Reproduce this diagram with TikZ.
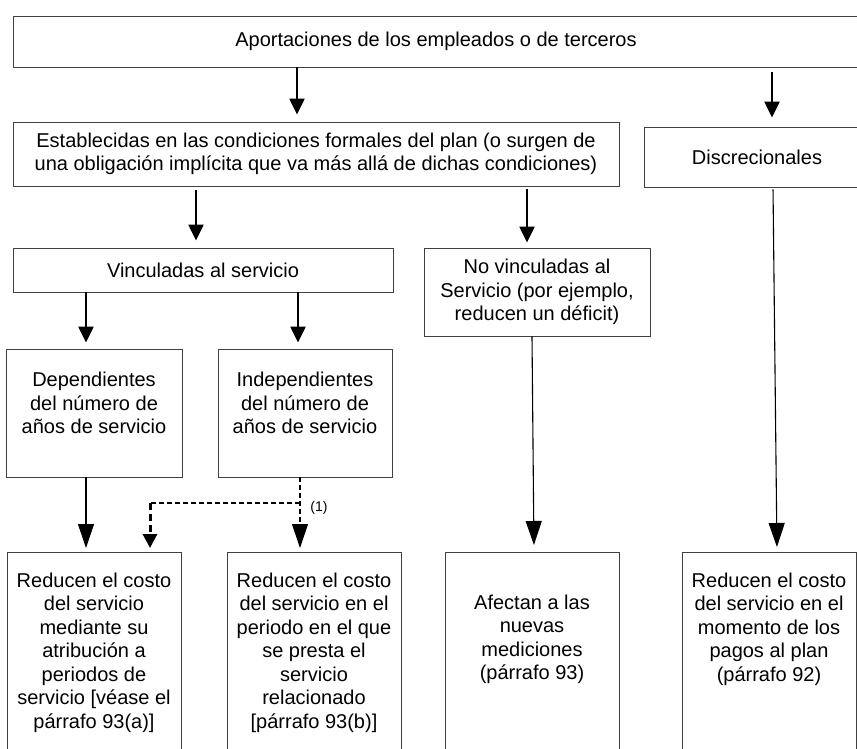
\documentclass[tikz,border=0pt]{standalone}
\usepackage{fontspec}
\setmainfont{Liberation Sans}
\usetikzlibrary{arrows.meta}
\usetikzlibrary{calc}

\begin{document}
\begin{tikzpicture}[x=1pt, y=-1pt,
    main/.style = {draw=black!75, line width=0.9pt, align=center, inner sep=0pt, font=\fontsize{20}{23.5}\selectfont},
    txt/.style = {align=center, inner sep=0pt, font=\fontsize{20}{23.5}\selectfont},
    bold/.style = {line width=2.4pt, -{Triangle[length=16pt,width=15pt]}},
    fine/.style = {line width=1.1pt, -{Triangle[length=24pt,width=16pt]}}]
    \useasboundingbox (0,0) rectangle (857,749);

    \node [main, minimum width=846pt, minimum height=51pt] (top) at (436,41.5) {Aportaciones de los empleados o de terceros};
    \node [main, minimum width=606pt, minimum height=64pt] (estab) at (316,154) {Establecidas en las condiciones formales del plan (o surgen de\\una obligación implícita que va más allá de dichas condiciones)};
    \node [main, minimum width=226pt, minimum height=60pt] (discr) at (757,157) {Discrecionales};
    \node [main, minimum width=380pt, minimum height=44pt] (vinc) at (203,270) {Vinculadas al servicio};
    \node [main, minimum width=226pt, minimum height=88pt] (novinc) at (537,292) {No vinculadas al\\Servicio (por ejemplo,\\reducen un déficit)};

    \node [main, minimum width=176pt, minimum height=128pt] (dep) at (94,413) {};
    \node [main, minimum width=174pt, minimum height=128pt] (indep) at (305,413) {};
    \node [txt] (tdep) at (94,403) {Dependientes\\del número de\\años de servicio};
    \node [txt] (tindep) at (305,403) {Independientes\\del número de\\años de servicio};

    \node [main, minimum width=174pt, minimum height=200pt, anchor=north] (r1) at (94,552) {};
    \node [main, minimum width=174pt, minimum height=200pt, anchor=north] (r2) at (314,552) {};
    \node [main, minimum width=174pt, minimum height=200pt, anchor=north] (r3) at (532,552) {};
    \node [main, minimum width=174pt, minimum height=200pt, anchor=north] (r4) at (769,552) {};
    \node [txt] (t1) at (94,652.5) {Reducen el costo\\del servicio\\mediante su\\atribución a\\periodos de\\servicio [véase el\\párrafo 93(a)]};
    \node [txt] (t2) at (314,652.5) {Reducen el costo\\del servicio en el\\periodo en el que\\se presta el\\servicio\\relacionado\\{[}párrafo 93(b)]};
    \node [txt] (t3) at (532,639.5) {Afectan a las\\nuevas\\mediciones\\(párrafo 93)};
    \node [txt] (t4) at (769,629) {Reducen el costo\\del servicio en el\\momento de los\\pagos al plan\\(párrafo 92)};

    \draw [bold, shorten >=7pt] (top.south -| 297,0) -- (estab.north -| 297,0);
    \draw [bold, shorten <=5pt, shorten >=9pt] (top.south -| 772,0) -- (discr.north -| 772,0);
    \draw [bold, shorten <=4pt, shorten >=7pt] (estab.south -| 196,0) -- (vinc.north -| 196,0);
    \draw [bold, shorten <=3pt, shorten >=5pt] (estab.south -| 527,0) -- (novinc.north -| 527,0);
    \draw [bold, shorten >=6pt] (vinc.south -| 86,0) -- (dep.north -| 86,0);
    \draw [bold, shorten >=6pt] (vinc.south -| 298,0) -- (indep.north -| 298,0);

    \draw [fine, shorten >=4pt] (dep.south -| 86,0) -- (r1.north -| 86,0);
    \draw [fine, dash pattern=on 5pt off 3pt, shorten >=4pt] (indep.south -| 300,0) -- (r2.north -| 300,0);
    \coordinate (j) at (300,503);
    \coordinate (k) at (150,503);
    \draw [line width=1.1pt, dash pattern=on 5pt off 3pt] (j) -- (k);
    \draw [line width=3pt, dash pattern=on 7pt off 4pt, -{Triangle[length=14pt,width=14pt]}, shorten >=4pt] (k) -- (r1.north -| k);
    \node [font=\fontsize{14}{16}\selectfont] (n1) at (319,508) {(1)};

    \draw [fine, shorten >=7pt] (novinc.south -| 532,0) -- (r3.north -| 534,0);
    \draw [fine, shorten <=2pt, shorten >=5pt] (discr.south -| 773,0) -- (r4.north -| 777,0);

\end{tikzpicture}
\end{document}
